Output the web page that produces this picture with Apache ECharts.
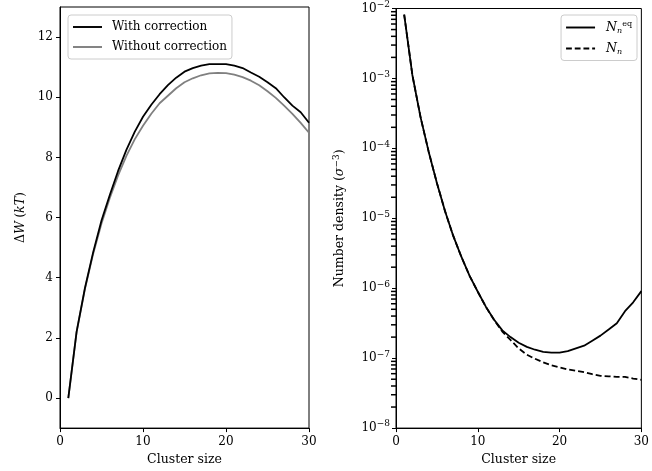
<!DOCTYPE html>
<html>
<head>
<meta charset="utf-8">
<script src="https://cdn.jsdelivr.net/npm/echarts@6/dist/echarts.min.js"></script>
<style>
  html, body { margin: 0; padding: 0; background: #fff; }
  #chart { width: 652px; height: 471px; }
</style>
</head>
<body>
<div id="chart"></div>
<script>
// cluster sizes n
var clusterSizes = [1, 2, 3, 4, 5, 6, 7, 8, 9, 10, 11, 12, 13, 14, 15,
  16, 17, 18, 19, 20, 21, 22, 23, 24, 25, 26, 27, 28, 29, 30];

// left panel, work of formation in kT
var dwWith = [0, 2.2, 3.65, 4.85, 5.9, 6.75, 7.55, 8.25, 8.85, 9.35, 9.75, 10.1, 10.4, 10.65, 10.85,
  10.97, 11.05, 11.1, 11.1, 11.1, 11.05, 10.97, 10.82, 10.68, 10.5, 10.3, 10.0, 9.72, 9.5, 9.15];
var dwWithout = [0, 2.2, 3.62, 4.8, 5.8, 6.65, 7.4, 8.05, 8.6, 9.05, 9.45, 9.8, 10.05, 10.3, 10.5,
  10.63, 10.73, 10.79, 10.81, 10.8, 10.75, 10.67, 10.55, 10.4, 10.2, 9.98, 9.72, 9.45, 9.15, 8.82];

// right panel, number densities
var nEq = [8.2e-3, 1.12e-3, 2.8e-4, 8.9e-5, 3.2e-5, 1.26e-5, 5.6e-6, 2.8e-6, 1.5e-6, 8.9e-7,
  5.4e-7, 3.55e-7, 2.5e-7, 2.0e-7, 1.66e-7, 1.45e-7, 1.32e-7, 1.23e-7, 1.2e-7, 1.2e-7,
  1.26e-7, 1.38e-7, 1.51e-7, 1.78e-7, 2.1e-7, 2.57e-7, 3.16e-7, 4.7e-7, 6.3e-7, 9.1e-7];
var nN = [8.2e-3, 1.12e-3, 2.8e-4, 8.9e-5, 3.2e-5, 1.26e-5, 5.6e-6, 2.8e-6, 1.5e-6, 8.9e-7,
  5.4e-7, 3.5e-7, 2.4e-7, 1.82e-7, 1.38e-7, 1.12e-7, 9.8e-8, 8.7e-8, 7.9e-8, 7.4e-8,
  6.9e-8, 6.6e-8, 6.3e-8, 5.9e-8, 5.6e-8, 5.5e-8, 5.4e-8, 5.4e-8, 5.1e-8, 4.9e-8];

var leftYTicks = [0, 2, 4, 6, 8, 10, 12];
var rightYTicks = [1e-8, 1e-7, 1e-6, 1e-5, 1e-4, 1e-3, 1e-2];
var minorTicks = [];
for (var k = -8; k < -2; k++) {
  for (var m = 2; m <= 9; m++) minorTicks.push(m * Math.pow(10, k));
}

function pairs(ys) {
  return clusterSizes.map(function (n, i) { return [n, ys[i]]; });
}

var FONT = 'DejaVu Serif';
var SOLID_ICON = 'path://M0,0h30v2h-30z';
var DASH_ICON = 'path://M0,0h6v2h-6z M9,0h6v2h-6z M18,0h6v2h-6z M27,0h3v2h-3z';

var myChart = echarts.init(document.getElementById('chart'));

var gridBox = { show: true, borderColor: '#000', borderWidth: 1, backgroundColor: 'transparent' };

function xAxisFor(idx) {
  return {
    type: 'value', gridIndex: idx, min: 0, max: 30, interval: 10,
    name: 'Cluster size', nameLocation: 'middle', nameGap: 22,
    nameTextStyle: { fontFamily: FONT, fontSize: 12.5, color: '#000' },
    axisLine: { show: true, onZero: false, lineStyle: { color: '#000', width: 1 } },
    axisTick: { show: true, inside: false, length: 4, lineStyle: { color: '#000' } },
    axisLabel: { fontFamily: FONT, fontSize: 12, color: '#000', margin: 8 },
    splitLine: { show: false }
  };
}

var option = {
  animation: false,
  backgroundColor: '#fff',
  grid: [
    Object.assign({ left: 60, right: 343, top: 7, bottom: 42 }, gridBox),
    Object.assign({ left: 396, right: 7, top: 7, bottom: 42 }, gridBox)
  ],
  legend: [
    {
      data: [{ name: 'With correction', icon: SOLID_ICON }, { name: 'Without correction', icon: SOLID_ICON }],
      orient: 'vertical', left: 68, top: 15,
      itemWidth: 29, itemHeight: 2, itemGap: 6,
      padding: [5, 5, 5, 5],
      backgroundColor: '#fff', borderColor: '#ccc', borderWidth: 1, borderRadius: 3,
      textStyle: { fontFamily: FONT, fontSize: 12, color: '#000', padding: [0, 0, 0, 5], lineHeight: 14 }
    },
    {
      data: [{ name: 'eq', icon: SOLID_ICON }, { name: 'n', icon: DASH_ICON }],
      orient: 'vertical', right: 15, top: 15,
      itemWidth: 29, itemHeight: 2, itemGap: 7,
      padding: [5, 5, 5, 5],
      backgroundColor: '#fff', borderColor: '#ccc', borderWidth: 1, borderRadius: 3,
      formatter: function (name) {
        return name === 'eq' ? '{i|N}{sub|n}{sup|eq}' : '{i|N}{sub|n}';
      },
      textStyle: {
        fontFamily: FONT, fontSize: 12, color: '#000', padding: [0, 0, 0, 6], lineHeight: 14,
        rich: {
          i: { fontFamily: FONT, fontStyle: 'italic', fontSize: 12.5 },
          sub: { fontFamily: FONT, fontStyle: 'italic', fontSize: 8, padding: [6, 0, 0, 0] },
          sup: { fontFamily: FONT, fontSize: 8, padding: [0, 0, 7, 0] }
        }
      }
    }
  ],
  xAxis: [xAxisFor(0), xAxisFor(1)],
  yAxis: [
    {
      type: 'value', gridIndex: 0, min: -1, max: 13,
      name: '{r|Δ}{i|W} {r|(}{i|kT}{r|)}', nameLocation: 'middle', nameGap: 33, nameRotate: 90,
      nameTextStyle: {
        color: '#000',
        rich: {
          r: { fontFamily: FONT, fontSize: 12.5, color: '#000' },
          i: { fontFamily: FONT, fontSize: 12.5, fontStyle: 'italic', color: '#000' }
        }
      },
      axisLine: { show: true, onZero: false, lineStyle: { color: '#000', width: 1 } },
      axisTick: { show: true, inside: false, length: 4, customValues: leftYTicks, lineStyle: { color: '#000' } },
      axisLabel: { fontFamily: FONT, fontSize: 12, color: '#000', margin: 7, customValues: leftYTicks },
      splitLine: { show: false }
    },
    {
      type: 'log', gridIndex: 1, logBase: 10, min: 1e-8, max: 1e-2,
      name: '{r|Number density (}{i|σ}{sup|−3}{r|)}', nameLocation: 'middle', nameGap: 48, nameRotate: 90,
      nameTextStyle: {
        color: '#000',
        rich: {
          r: { fontFamily: FONT, fontSize: 12.5, color: '#000' },
          i: { fontFamily: FONT, fontSize: 12.5, fontStyle: 'italic', color: '#000' },
          sup: { fontFamily: FONT, fontSize: 9, color: '#000', padding: [0, 0, 7, 0] }
        }
      },
      axisLine: { show: true, onZero: false, lineStyle: { color: '#000', width: 1 } },
      axisTick: { show: true, inside: false, length: 4, customValues: rightYTicks, lineStyle: { color: '#000' } },
      axisLabel: {
        color: '#000', margin: 6, customValues: rightYTicks,
        formatter: function (v) {
          var e = Math.round(Math.log10(v));
          return '{b|10}{s|−' + Math.abs(e) + '}';
        },
        rich: {
          b: { fontFamily: FONT, fontSize: 12, color: '#000' },
          s: { fontFamily: FONT, fontSize: 9, color: '#000', padding: [0, 0, 8, 0] }
        }
      },
      splitLine: { show: false }
    }
  ],
  series: [
    {
      name: 'With correction', type: 'line', xAxisIndex: 0, yAxisIndex: 0,
      data: pairs(dwWith), symbol: 'none',
      lineStyle: { color: '#000', width: 1.8 }, itemStyle: { color: '#000' }, z: 3
    },
    {
      name: 'Without correction', type: 'line', xAxisIndex: 0, yAxisIndex: 0,
      data: pairs(dwWithout), symbol: 'none',
      lineStyle: { color: '#808080', width: 1.8 }, itemStyle: { color: '#808080' }, z: 2
    },
    {
      name: 'eq', type: 'line', xAxisIndex: 1, yAxisIndex: 1,
      data: pairs(nEq), symbol: 'none',
      lineStyle: { color: '#000', width: 1.8 }, itemStyle: { color: '#000' }, z: 3
    },
    {
      name: 'n', type: 'line', xAxisIndex: 1, yAxisIndex: 1,
      data: pairs(nN), symbol: 'none',
      lineStyle: { color: '#000', width: 1.8, type: [6, 3] }, itemStyle: { color: '#000' }, z: 2
    },
    {
      // minor log ticks (2..9 per decade) on the left edge of the right panel
      name: 'minor', type: 'scatter', xAxisIndex: 1, yAxisIndex: 1,
      data: minorTicks.map(function (v) { return [0, v]; }),
      symbol: 'rect', symbolSize: [5, 1.5], symbolOffset: [-2.5, 0],
      itemStyle: { color: '#000', opacity: 1 }, silent: true, clip: false, z: 10,
      emphasis: { disabled: true }
    }
  ]
};

myChart.setOption(option);
</script>
</body>
</html>
